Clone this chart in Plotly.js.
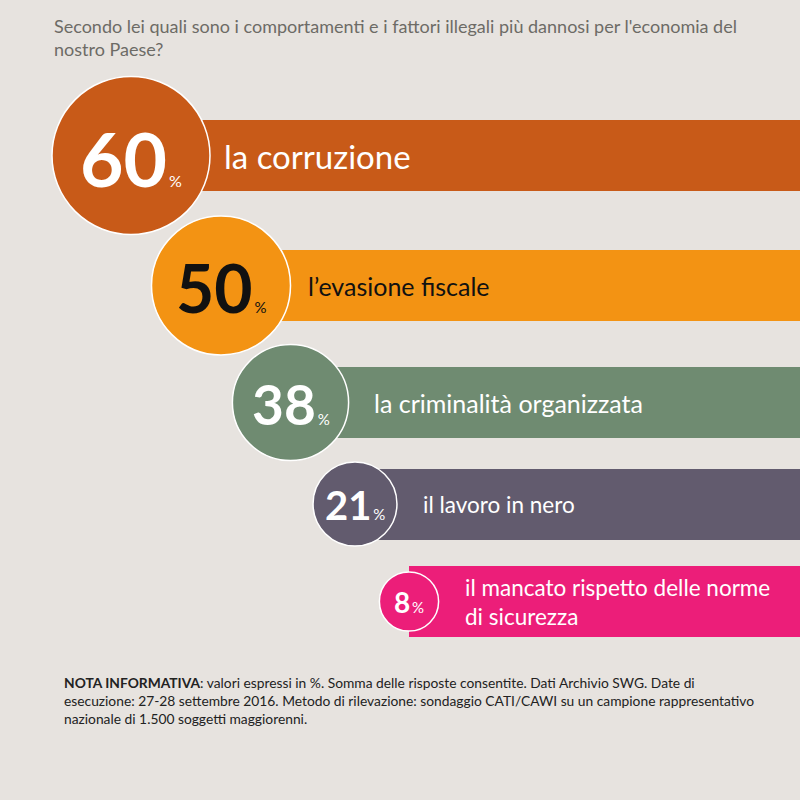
<!DOCTYPE html>
<html>
<head>
<meta charset="utf-8">
<script src="https://cdn.plot.ly/plotly-3.0.1.min.js"></script>
<style>html,body{margin:0;padding:0;background:#e7e3df;}#chart{width:800px;height:800px;}</style>
</head>
<body>
<div id="chart"></div>
<script>
// ---- data ----
const categories = [
  "la corruzione",
  "l\u2019evasione fiscale",
  "la criminalità organizzata",
  "il lavoro in nero",
  "il mancato rispetto delle norme<br>di sicurezza"
];
const values = [60, 50, 38, 21, 8];
const unit = "%";
const titleText = "Secondo lei quali sono i comportamenti e i fattori illegali più dannosi per l'economia del<br>nostro Paese?";
const noteText = "<b>NOTA INFORMATIVA</b>: valori espressi in %. Somma delle risposte consentite. Dati Archivio SWG. Date di<br>esecuzione: 27-28 settembre 2016. Metodo di rilevazione: sondaggio CATI/CAWI su un campione rappresentativo<br>nazionale di 1.500 soggetti maggiorenni.";

// ---- styles / geometry (not data) ----
const fillColors = ["#c85a18", "#f39313", "#6f8b71", "#625b6e", "#ec1e79"];
const textColors = ["#ffffff", "#111111", "#ffffff", "#ffffff", "#ffffff"];
const rowY = [155.5, 285.5, 402.5, 504, 601.5];
const centerX = [131, 221, 290.5, 355, 409];
const labelSizes = [33, 25, 25, 22.5, 22.5];
const labelGap = [12, 15, 23, 24, 24];
const barHeight = 71;
const radius = values.map(v => 22 + 0.95 * v);

const bg = "#e7e3df";

const barTrace = {
  type: "bar",
  orientation: "h",
  y: rowY,
  base: centerX,
  x: centerX.map(cx => 800 - cx),
  width: values.map(() => barHeight),
  marker: {color: fillColors, line: {width: 0}},
  hoverinfo: "skip",
  showlegend: false
};

const circleTrace = {
  type: "scatter",
  mode: "markers",
  x: centerX,
  y: rowY,
  marker: {
    size: radius.map(r => 2 * r),
    color: fillColors,
    opacity: 1,
    line: {color: "#ffffff", width: 1.5}
  },
  hoverinfo: "skip",
  showlegend: false
};

const annotations = [];
values.forEach((v, i) => {
  const r = radius[i];
  const fs = Math.round(0.95 * r);
  annotations.push({
    x: centerX[i], y: rowY[i] + 0.03 * r,
    xref: "x", yref: "y",
    text: "<b>" + v + "</b><span style='font-size:" + (i === 0 ? 16 : 15) + "px'>\u2009" + unit + "</span>",
    showarrow: false,
    xanchor: "center", yanchor: "middle",
    font: {family: "Lato, 'Open Sans', sans-serif", size: fs, color: textColors[i]}
  });
  annotations.push({
    x: centerX[i] + r + labelGap[i], y: rowY[i],
    xref: "x", yref: "y",
    text: categories[i],
    showarrow: false,
    xanchor: "left", yanchor: "middle", align: "left",
    font: {family: "Lato, 'Open Sans', sans-serif", size: labelSizes[i], color: textColors[i]}
  });
});

annotations.push({
  x: 52, y: 13, xref: "x", yref: "y",
  text: titleText, showarrow: false,
  xanchor: "left", yanchor: "top", align: "left",
  font: {family: "Lato, 'Open Sans', sans-serif", size: 18, color: "#6d6b66"}
});
annotations.push({
  x: 62, y: 672, xref: "x", yref: "y",
  text: noteText, showarrow: false,
  xanchor: "left", yanchor: "top", align: "left",
  font: {family: "Lato, 'Open Sans', sans-serif", size: 13.8, color: "#222222"}
});

const layout = {
  width: 800, height: 800,
  margin: {l: 0, r: 0, t: 0, b: 0, pad: 0},
  paper_bgcolor: bg, plot_bgcolor: bg,
  xaxis: {range: [0, 800], visible: false, fixedrange: true},
  yaxis: {range: [800, 0], visible: false, fixedrange: true},
  bargap: 0,
  showlegend: false,
  annotations: annotations
};

Plotly.newPlot("chart", [barTrace, circleTrace], layout, {displayModeBar: false, staticPlot: true});
</script>
</body>
</html>
